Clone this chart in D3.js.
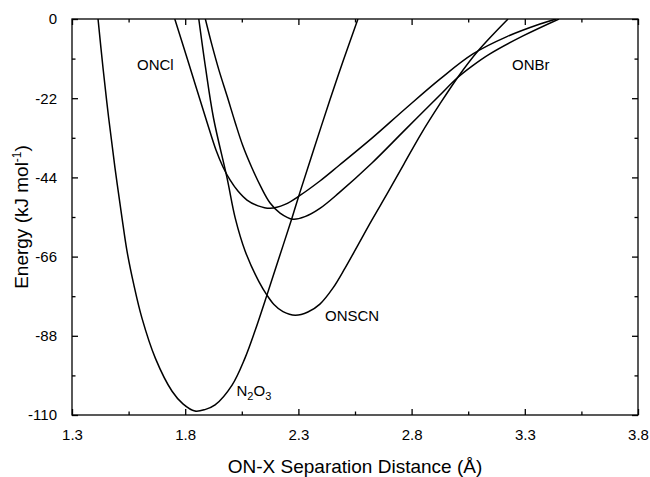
<!DOCTYPE html>
<html>
<head>
<meta charset="utf-8">
<script src="https://cdn.jsdelivr.net/npm/d3@7"></script>
<style>
  html, body { margin: 0; padding: 0; background: #fff; }
  svg { display: block; font-family: "Liberation Sans", Arial, sans-serif; }
</style>
</head>
<body>
<svg id="chart" width="650" height="477"></svg>
<script>
// Potential energy curves: [separation (Å), energy (kJ/mol)]
const n2o3 = [
  [1.415, 0], [1.437, -13.6], [1.462, -27.5], [1.490, -41.4], [1.521, -55.3],
  [1.543, -64.5], [1.573, -73.8], [1.609, -83.1], [1.668, -94.2], [1.742, -103.4],
  [1.790, -106.9], [1.843, -108.9], [1.887, -108.5], [1.932, -107.2], [2.007, -101.7],
  [2.064, -94.2], [2.108, -86.7], [2.161, -76.7], [2.197, -69.7], [2.270, -55.6],
  [2.306, -48.3], [2.367, -36.4], [2.439, -22.5], [2.499, -11.4], [2.563, 0]
];
const onscn = [
  [1.860, 0], [1.890, -13.6], [1.925, -27.5], [1.985, -44.2], [2.021, -55.3],
  [2.065, -64.5], [2.125, -72.9], [2.161, -76.7], [2.192, -79.3], [2.232, -81.3],
  [2.286, -82.3], [2.342, -81.4], [2.395, -79.2], [2.453, -74.7], [2.506, -69.2],
  [2.563, -62.8], [2.625, -55.8], [2.696, -48.1], [2.766, -40.3], [2.842, -31.9],
  [2.925, -23.6], [3.005, -16.1], [3.093, -8.9], [3.226, 0]
];
const oncl = [
  [1.754, 0], [1.804, -10.0], [1.852, -19.7], [1.896, -28.6], [1.936, -36.4],
  [1.967, -41.1], [1.998, -44.7], [2.033, -47.8], [2.073, -50.3], [2.122, -51.9],
  [2.175, -52.6], [2.241, -51.5], [2.307, -49.0], [2.395, -45.0], [2.479, -40.7],
  [2.625, -33.1], [2.771, -25.0], [2.925, -16.7], [3.071, -9.7], [3.221, -4.9],
  [3.367, -1.4], [3.438, 0]
];
const onbr = [
  [1.889, 0], [1.918, -7.2], [1.949, -14.2], [1.985, -21.4], [2.020, -28.6],
  [2.055, -35.3], [2.095, -41.4], [2.135, -46.7], [2.175, -51.1], [2.219, -53.9],
  [2.276, -55.6], [2.329, -54.9], [2.395, -52.6], [2.479, -48.3], [2.625, -40.0],
  [2.771, -30.8], [2.921, -21.4], [3.001, -16.4], [3.067, -13.1], [3.146, -9.7],
  [3.292, -4.7], [3.451, 0]
];
const curves = [n2o3, onscn, oncl, onbr];

// Axis ticks
const xMajor = [1.3, 1.8, 2.3, 2.8, 3.3, 3.8];
const xMinor = [1.55, 2.05, 2.55, 3.05, 3.55];
const yMajor = [0, -22, -44, -66, -88, -110];
const yMinor = [-11, -33, -55, -77, -99];

const svg = d3.select("#chart");
const m = { left: 72, right: 638, top: 19, bottom: 415 };

const x = d3.scaleLinear().domain([1.3, 3.8]).range([m.left, m.right]);
const y = d3.scaleLinear().domain([-110, 0]).range([m.bottom, m.top]);

svg.append("defs").append("clipPath").attr("id", "plotArea")
  .append("rect").attr("x", m.left).attr("y", m.top)
  .attr("width", m.right - m.left).attr("height", m.bottom - m.top);

// Curves
const line = d3.line()
  .x(d => x(d[0])).y(d => y(d[1]))
  .curve(d3.curveCatmullRom.alpha(0.5));

svg.append("g").attr("clip-path", "url(#plotArea)")
  .selectAll("path").data(curves).join("path")
  .attr("d", line)
  .attr("fill", "none").attr("stroke", "#000").attr("stroke-width", 1.5);

// Axes with inward ticks on all four sides
const fmtX = d3.format(".1f");
const tickStyle = g => {
  g.select(".domain").remove();
  g.selectAll("line").attr("stroke", "#000").attr("stroke-width", 1.3);
};
const textStyle = g => g.selectAll("text")
  .attr("fill", "#000").attr("font-size", 15)
  .attr("font-family", "'Liberation Sans', Arial, sans-serif");

svg.append("g").attr("transform", `translate(0,${m.bottom})`)
  .call(d3.axisBottom(x).tickValues(xMajor).tickFormat(fmtX).tickSizeInner(-6).tickSizeOuter(0).tickPadding(14))
  .call(tickStyle).call(textStyle);
svg.append("g").attr("transform", `translate(0,${m.bottom})`)
  .call(d3.axisBottom(x).tickValues(xMinor).tickFormat("").tickSizeInner(-3.5).tickSizeOuter(0))
  .call(tickStyle);
svg.append("g").attr("transform", `translate(0,${m.top})`)
  .call(d3.axisTop(x).tickValues(xMajor).tickFormat("").tickSizeInner(-6).tickSizeOuter(0))
  .call(tickStyle);
svg.append("g").attr("transform", `translate(0,${m.top})`)
  .call(d3.axisTop(x).tickValues(xMinor).tickFormat("").tickSizeInner(-3.5).tickSizeOuter(0))
  .call(tickStyle);

svg.append("g").attr("transform", `translate(${m.left},0)`)
  .call(d3.axisLeft(y).tickValues(yMajor).tickFormat(d => String(d)).tickSizeInner(-6).tickSizeOuter(0).tickPadding(15))
  .call(tickStyle).call(textStyle);
svg.append("g").attr("transform", `translate(${m.left},0)`)
  .call(d3.axisLeft(y).tickValues(yMinor).tickFormat("").tickSizeInner(-3.5).tickSizeOuter(0))
  .call(tickStyle);
svg.append("g").attr("transform", `translate(${m.right},0)`)
  .call(d3.axisRight(y).tickValues(yMajor).tickFormat("").tickSizeInner(-6).tickSizeOuter(0))
  .call(tickStyle);
svg.append("g").attr("transform", `translate(${m.right},0)`)
  .call(d3.axisRight(y).tickValues(yMinor).tickFormat("").tickSizeInner(-3.5).tickSizeOuter(0))
  .call(tickStyle);

// Frame
svg.append("rect")
  .attr("x", m.left).attr("y", m.top).attr("width", m.right - m.left).attr("height", m.bottom - m.top)
  .attr("fill", "none").attr("stroke", "#000").attr("stroke-width", 1.3);

// Axis titles
svg.append("text")
  .attr("x", (m.left + m.right) / 2).attr("y", 473)
  .attr("text-anchor", "middle").attr("font-size", 19)
  .text("ON-X Separation Distance (Å)");

const yt = svg.append("text")
  .attr("transform", `translate(28,${(m.top + m.bottom) / 2}) rotate(-90)`)
  .attr("text-anchor", "middle").attr("font-size", 19);
yt.append("tspan").text("Energy (kJ mol");
yt.append("tspan").attr("font-size", 12).attr("dy", -7).text("-1");
yt.append("tspan").attr("dy", 7).text(")");

// Curve labels
const lbl = (px, py, parts) => {
  const t = svg.append("text").attr("x", px).attr("y", py).attr("font-size", 15);
  parts.forEach(p => {
    const s = t.append("tspan").text(p.t);
    if (p.sub) s.attr("font-size", 11).attr("dy", 4);
    if (p.up) s.attr("dy", -4);
  });
};
lbl(137, 70, [{ t: "ONCl" }]);
lbl(512, 70, [{ t: "ONBr" }]);
lbl(325, 321, [{ t: "ONSCN" }]);
lbl(236.5, 396, [{ t: "N" }, { t: "2", sub: true }, { t: "O", up: true }, { t: "3", sub: true }]);
</script>
</body>
</html>
